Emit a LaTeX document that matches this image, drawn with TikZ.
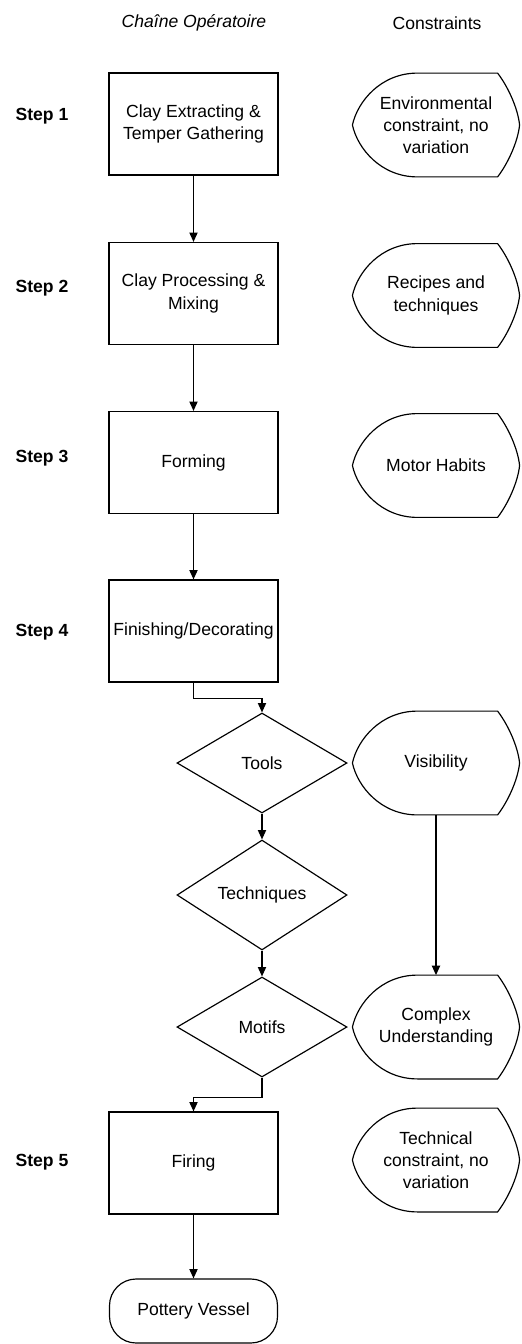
\documentclass[tikz,border=0pt]{standalone}
\usepackage{fontspec}
\setmainfont{Liberation Sans}
\usetikzlibrary{positioning}
\usetikzlibrary{shapes.geometric, shapes.misc}
\usetikzlibrary{arrows.meta}

\tikzset{
  txt/.style={font=\fontsize{15}{19}\selectfont},
  stepbox/.style={txt,rectangle,draw,line width=1pt,inner sep=2pt,minimum width=5.07cm,minimum height=3.06cm,align=center},
  choice/.style={txt,diamond,draw,line width=1pt,inner sep=1pt,minimum width=5.1cm,minimum height=3cm},
  constraint/.style={txt,rectangle,inner sep=1pt,minimum width=5.0cm,minimum height=3.1cm,align=center},
  outline/.style={line width=1pt},
  vessel/.style={txt,rectangle,rounded corners=0.8cm,draw,line width=1pt,minimum width=5.04cm,minimum height=1.92cm},
  steplabel/.style={font=\bfseries\fontsize{15}{18}\selectfont},
  flow/.style={line width=1pt,-{Triangle[length=8pt,width=7pt]}}
}

\begin{document}
\begin{tikzpicture}[x=0.03cm,y=-0.03cm]
\useasboundingbox (0,0) rectangle (521,1344);

% column heads
\node[txt,font=\itshape\fontsize{15}{18}\selectfont] (head1) at (194,23) {Chaîne Opératoire};
\node[txt] (head2) at (437,23) {Constraints};

% steps
\node[steplabel] (s1) at (42,116) {Step 1};
\node[steplabel] (s2) at (42,288) {Step 2};
\node[steplabel] (s3) at (42,458) {Step 3};
\node[steplabel] (s4) at (42,632) {Step 4};
\node[steplabel] (s5) at (42,1162) {Step 5};

% chaine operatoire
\node[stepbox] (extract) at (193.5,124) {Clay Extracting \&\\Temper Gathering};
\node[stepbox] (process) at (193.5,293.5) {Clay Processing \&\\Mixing};
\node[stepbox] (forming) at (193.5,462.5) {Forming};
\node[stepbox] (finish) at (193.5,631) {Finishing/Decorating};
\node[choice] (tools) at (262,763) {Tools};
\node[choice] (techn) at (262,895) {Techniques};
\node[choice] (motifs) at (262,1027) {Motifs};
\node[stepbox] (firing) at (193.5,1163) {Firing};
\node[vessel] (pot) at (193.5,1311) {Pottery Vessel};

% constraints
\node[constraint] (env) at (436,125) {Environmental\\constraint, no\\variation};
\node[constraint] (rec) at (436,295.5) {Recipes and\\techniques};
\node[constraint] (mot) at (436,465.5) {Motor Habits};
\node[constraint] (vis) at (436,763) {Visibility};
\node[constraint] (cmp) at (436,1027) {Complex\\Understanding};
\node[constraint] (tec) at (436,1160) {Technical\\constraint, no\\variation};

\foreach \c in {env,rec,mot,vis,cmp,tec}
  \draw[outline] ([xshift=1.95cm]\c.north west) -- ([xshift=-0.66cm]\c.north east)
    .. controls ([xshift=-0.35cm,yshift=-0.4cm]\c.north east) and ([xshift=-0.05cm,yshift=0.5cm]\c.east) .. (\c.east)
    .. controls ([xshift=-0.05cm,yshift=-0.5cm]\c.east) and ([xshift=-0.35cm,yshift=0.4cm]\c.south east) .. ([xshift=-0.66cm]\c.south east)
    -- ([xshift=1.95cm]\c.south west)
    .. controls ([xshift=0.85cm]\c.south west) and ([xshift=0.15cm,yshift=-0.7cm]\c.west) .. (\c.west)
    .. controls ([xshift=0.15cm,yshift=0.7cm]\c.west) and ([xshift=0.85cm]\c.north west) .. ([xshift=1.95cm]\c.north west);

% connectors
\draw[flow] (extract) -- (process);
\draw[flow] (process) -- (forming);
\draw[flow] (forming) -- (finish);
\draw[flow] (finish.south) -- ++(0,16) -| (tools.north);
\draw[flow] (tools) -- (techn);
\draw[flow] (techn) -- (motifs);
\draw[flow] (motifs.south) -- ++(0,20) -| (firing.north);
\draw[flow] (firing) -- (pot);
\draw[flow] (vis) -- (cmp);

\end{tikzpicture}
\end{document}
